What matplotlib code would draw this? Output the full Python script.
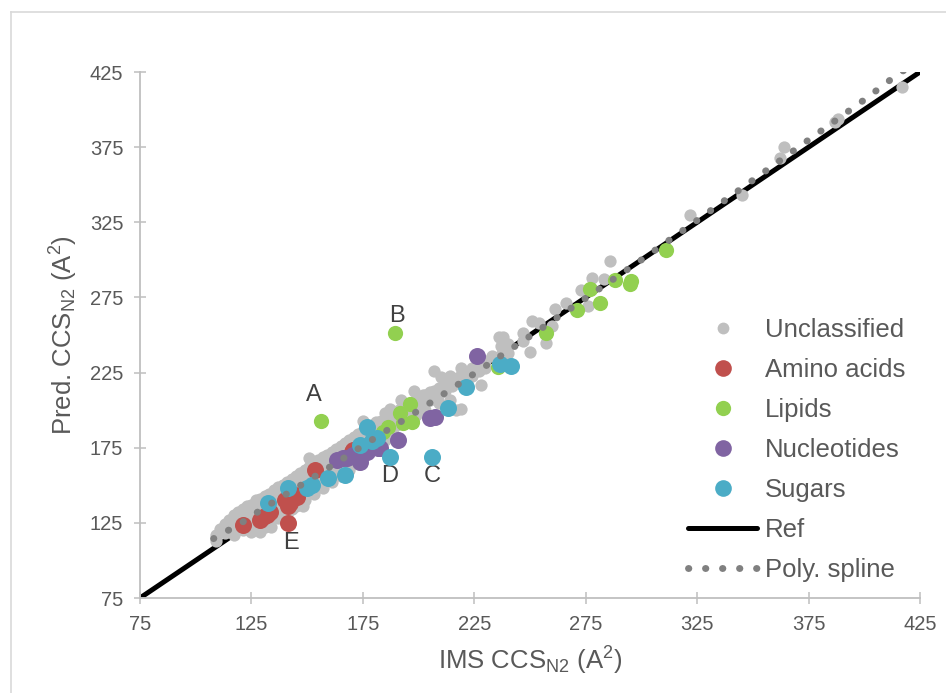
import matplotlib
matplotlib.use("Agg")
import matplotlib.pyplot as plt
from matplotlib.lines import Line2D
import numpy as np

plt.rcParams['font.family'] = ['Liberation Sans', 'DejaVu Sans']
plt.rcParams['mathtext.default'] = 'regular'

# ---- data ----
unclassified = [
    (109, 117), (109, 113), (111, 121), (113, 124), (113, 118), (115, 127), (115, 120),
    (117, 130), (117, 123), (117, 117), (119, 132), (119, 125), (119, 121),
    (121, 134), (121, 128), (121, 120), (123, 136), (123, 131), (123, 125),
    (125, 137), (125, 130), (125, 122), (125, 119), (127, 140), (127, 134), (127, 127),
    (129, 141), (129, 136), (129, 130), (129, 124), (129, 119),
    (131, 143), (131, 138), (131, 133), (131, 122),
    (133, 144), (133, 140), (133, 135), (133, 129), (133, 125), (134, 122),
    (135, 147), (135, 142), (135, 137), (135, 131),
    (137, 149), (137, 144), (137, 139), (137, 133), (137, 128),
    (139, 150), (139, 146), (139, 141), (139, 135),
    (141, 152), (141, 148), (141, 143), (141, 131),
    (143, 154), (143, 150), (143, 145), (143, 139), (143, 134),
    (145, 156), (145, 152), (145, 147), (145, 141), (145, 136),
    (147, 158), (147, 153), (147, 149), (147, 143), (148, 136),
    (149, 160), (149, 156), (149, 151), (149, 145), (149, 140),
    (151, 168), (151, 162), (151, 158), (151, 153), (151, 147),
    (153, 164), (153, 160), (153, 155), (153, 149), (153, 144),
    (155, 167), (155, 162), (155, 157), (155, 151),
    (157, 169), (157, 164), (157, 159), (157, 153), (157, 148),
    (159, 170), (159, 166), (159, 161), (159, 155),
    (161, 172), (161, 168), (161, 163), (161, 157), (161, 152),
    (163, 174), (163, 170), (163, 165), (163, 159),
    (165, 176), (165, 171), (165, 167), (165, 161), (165, 156),
    (167, 178), (167, 173), (167, 169), (167, 163),
    (169, 180), (169, 175), (169, 170), (169, 165), (169, 160),
    (171, 182), (171, 177), (171, 172), (171, 167),
    (173, 184), (173, 179), (173, 175), (173, 169), (173, 164),
    (175, 193), (175, 186), (175, 181), (175, 176), (175, 171),
    (177, 188), (177, 183), (177, 178), (177, 172),
    (179, 190), (179, 185), (179, 180), (179, 174),
    (181, 192), (181, 187), (181, 182), (181, 176),
    (183, 193), (183, 189), (183, 184), (183, 178),
    (185, 195), (185, 190), (185, 185), (185, 180), (185, 198),
    (187, 197), (187, 192), (187, 187), (187, 201),
    (189, 199), (189, 194), (189, 189), (191, 200), (191, 196), (191, 191), (192, 207),
    (193, 202), (193, 197), (193, 193), (195, 204), (195, 199), (195, 194),
    (197, 205), (197, 201), (198, 213), (199, 207), (199, 203), (199, 197),
    (201, 208), (201, 204), (202, 210), (203, 210), (203, 206), (203, 200),
    (205, 212), (205, 207), (207, 213), (207, 209), (207, 226),
    (209, 215), (209, 211), (209, 205), (210, 222), (212, 217), (212, 213),
    (214, 223), (214, 220), (214, 207), (215, 219), (215, 216), (217, 200),
    (218, 222), (218, 218), (219, 228), (219, 201), (221, 225), (221, 220),
    (224, 228), (224, 223), (227, 231), (227, 226), (228, 217),
    (230, 233), (230, 228), (233, 236), (236, 249), (237, 243), (237, 237),
    (238, 249), (240, 244), (240, 238), (247, 251), (247, 246), (250, 239),
    (251, 259), (254, 258), (257, 245), (260, 256), (261, 267), (266, 271),
    (273, 280), (276, 269), (278, 288), (283, 287), (286, 299), (322, 330),
    (345, 343), (362, 368), (364, 375), (387, 392), (388, 394), (417, 415),
]
unc_x = [p[0] for p in unclassified]
unc_y = [p[1] for p in unclassified]

amino_x = [121.4, 128.8, 130.3, 131.8, 133.3, 141.3, 141.5, 142.3, 140.0, 144.5, 145.3, 153.5, 170.0, 170.7]
amino_y = [123.6, 126.9, 129.1, 130.2, 132.5, 125.1, 136.2, 138.0, 140.2, 143.5, 142.4, 160.2, 172.3, 173.5]

lipid_x = [156.1, 189.4, 184.2, 186.4, 191.7, 193.2, 196.9, 196.2, 235.8, 257.4, 271.0, 276.9, 281.4,
           288.1, 295.2, 295.0, 311.0]
lipid_y = [192.8, 251.1, 185.7, 189.0, 197.9, 191.2, 192.3, 204.0, 229.0, 251.1, 266.6, 280.4, 271.5,
           286.6, 286.2, 284.0, 306.5]

nucl_x = [163.3, 166.2, 167.8, 170.7, 173.7, 176.7, 181.9, 182.7, 190.9, 205.1, 207.4, 226.4]
nucl_y = [166.8, 168.0, 168.0, 170.1, 165.8, 172.3, 174.6, 174.6, 180.1, 194.6, 195.7, 235.9]

sugar_x = [132.6, 141.5, 149.8, 152.0, 159.5, 167.0, 173.7, 176.7, 179.0, 181.2, 187.2, 206.2,
           213.3, 221.3, 236.5, 241.3]
sugar_y = [138.3, 148.1, 148.0, 150.2, 154.6, 157.0, 176.8, 188.6, 179.5, 181.3, 169.1, 169.1,
           201.3, 215.2, 230.7, 229.4]

spline_x = [108, 120, 130, 140, 150, 165, 175, 185, 195, 210, 225, 250, 275, 300, 325, 350, 375, 400, 415, 422]
spline_y = [114.5, 124.5, 134.4, 143.5, 152.7, 166.7, 176.4, 185.8, 195.0, 209.5, 224.3, 249.2, 274.5,
            300.0, 326.3, 353.0, 379.8, 406.5, 423.5, 430.0]

ref_x = [75, 425]
ref_y = [75, 425]

labels = ['A', 'B', 'C', 'D', 'E']
label_x = [153.0, 190.3, 206.0, 187.2, 142.8]
label_y = [210.0, 262.6, 156.2, 156.2, 111.6]

ticks = [75, 125, 175, 225, 275, 325, 375, 425]

# ---- styling ----
text_col = '#595959'
axis_col = '#bfbfbf'
c_unc = '#bfbfbf'
c_amino = '#c0504d'
c_lipid = '#92d050'
c_nucl = '#8064a2'
c_sugar = '#4bacc6'
c_spline = '#808080'

W, H = 946, 693
fig = plt.figure(figsize=(W / 100, H / 100), dpi=100)
ax = fig.add_axes([140 / W, 1 - 598 / H, 780 / W, 526 / H])

ax.plot(ref_x, ref_y, color='black', lw=3.6, solid_capstyle='butt', zorder=1)
ax.scatter(unc_x, unc_y, s=78, color=c_unc, linewidths=0, zorder=2)
ax.scatter(amino_x, amino_y, s=150, color=c_amino, linewidths=0, zorder=3)
ax.scatter(lipid_x, lipid_y, s=120, color=c_lipid, linewidths=0, zorder=3)
ax.scatter(nucl_x, nucl_y, s=150, color=c_nucl, linewidths=0, zorder=3)
ax.scatter(sugar_x, sugar_y, s=150, color=c_sugar, linewidths=0, zorder=4)
spl, = ax.plot(spline_x, spline_y, color=c_spline, lw=5, dashes=(0.05, 2.4),
               dash_capstyle='round', zorder=5)

for lab, lx, ly in zip(labels, label_x, label_y):
    ax.text(lx, ly, lab, ha='center', va='center', fontsize=17, color='#404040')

ax.set_xlim(75, 425)
ax.set_ylim(75, 425)
ax.set_xticks(ticks)
ax.set_yticks(ticks)
for side in ['top', 'right']:
    ax.spines[side].set_visible(False)
for side in ['left', 'bottom']:
    ax.spines[side].set_color(axis_col)
    ax.spines[side].set_linewidth(1.3)
ax.tick_params(direction='inout', length=8, width=1.1, color=axis_col,
               labelcolor=text_col, labelsize=14.5, pad=8)

ax.set_xlabel(r'IMS CCS$_{N2}$ (A$^{2}$)', fontsize=18.5, color=text_col, labelpad=8)
ax.set_ylabel(r'Pred. CCS$_{N2}$ (A$^{2}$)', fontsize=18.5, color=text_col, labelpad=7)

handles = [
    Line2D([], [], ls='none', marker='o', ms=8.5, mfc=c_unc, mec='none'),
    Line2D([], [], ls='none', marker='o', ms=12, mfc=c_amino, mec='none'),
    Line2D([], [], ls='none', marker='o', ms=11, mfc=c_lipid, mec='none'),
    Line2D([], [], ls='none', marker='o', ms=12, mfc=c_nucl, mec='none'),
    Line2D([], [], ls='none', marker='o', ms=12, mfc=c_sugar, mec='none'),
    Line2D([], [], color='black', lw=3.6, solid_capstyle='round'),
    Line2D([], [], color=c_spline, lw=5, dashes=(0.05, 2.4), dash_capstyle='round'),
]
names = ['Unclassified', 'Amino acids', 'Lipids', 'Nucleotides', 'Sugars', 'Ref', 'Poly. spline']
leg = fig.legend(handles, names, loc='upper left', bbox_to_anchor=(688 / W, 1 - 318 / H),
                 frameon=False, fontsize=18.5, labelcolor=text_col, handlelength=2.7,
                 handletextpad=0.3, labelspacing=0.62, borderpad=0, borderaxespad=0)

# light frame around the chart area
fig.add_artist(Line2D([10.5 / W, 10.5 / W], [0, 1 - 12 / H], color='#d9d9d9', lw=1.2))
fig.add_artist(Line2D([10.5 / W, 1], [1 - 12 / H, 1 - 12 / H], color='#d9d9d9', lw=1.2))

fig.savefig('out.png', dpi=100)
